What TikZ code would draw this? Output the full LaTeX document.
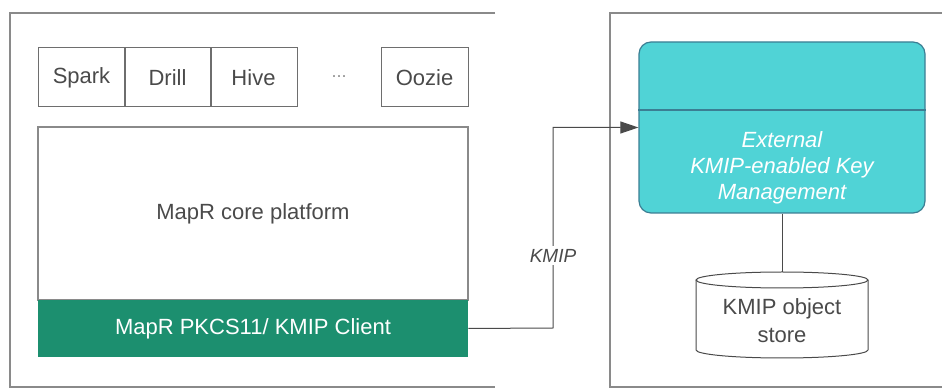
\documentclass[tikz,border=0pt]{standalone}
\usepackage{fontspec}
\setmainfont{Liberation Sans}
\usetikzlibrary{arrows.meta,positioning,calc}
\definecolor{Ink}{HTML}{4A4A4A}
\definecolor{Frame}{HTML}{8A8A8A}
\definecolor{ClientGreen}{HTML}{1C8F6F}
\definecolor{KmsTeal}{HTML}{50D3D6}
\definecolor{KmsEdge}{HTML}{3B7E93}
\newcommand{\AppBox}[3]{%
  \node[appbox] (#1) at (#2,77.5) {#3};%
}
\tikzset{
  txt/.style={font=\fontsize{11}{13}\selectfont,text=Ink},
  appbox/.style={txt,draw=Ink!80,line width=0.5pt,minimum width=43.5pt,minimum height=29.5pt,inner sep=0pt},
  wire/.style={Ink,line width=0.5pt},
}
\begin{document}
\begin{tikzpicture}[x=0.5pt,y=-0.5pt]
\useasboundingbox (0,0) rectangle (942,389);
% outer frames (open on the right)
\draw[Frame,line width=0.6pt] (495,13) -- (10,13) -- (10,387) -- (495,387);
\draw[Frame,line width=0.6pt] (942,13) -- (610,13) -- (610,387) -- (942,387);
% application row
\foreach \n/\x/\s in {spark/81.5/Spark,drill/167.5/Drill,hive/253.5/Hive} {
  \AppBox{\n}{\x}{\s}
}
\node[txt,text=Ink!60,font=\fontsize{9}{11}\selectfont] (dots) at (339,77) {...};
\AppBox{oozie}{424.5}{Oozie}
% platform and client
\node[txt,draw=Frame,line width=0.6pt,minimum width=215pt,minimum height=86.5pt,inner sep=0pt] (core) at (253,213.5) {MapR core platform};
\node[txt,text=white,fill=ClientGreen,minimum width=215pt,minimum height=28.5pt,inner sep=0pt] (client) at (253,328.5) {MapR PKCS11/ KMIP Client};
% key management
\node[draw=KmsEdge,fill=KmsTeal,line width=0.6pt,rounded corners=6pt,minimum width=143pt,minimum height=85.5pt,inner sep=0pt] (kms) at (782,127.5) {};
\draw[KmsEdge,line width=0.6pt] (kms.west |- 0,110) -- (kms.east |- 0,110);
\node[txt,text=white,font=\fontsize{11}{13}\selectfont\itshape,align=center] (kmslabel) at (782,168) {External\\KMIP-enabled Key\\Management};
% object store
\node[txt,align=center,font=\fontsize{11}{14}\selectfont,minimum width=86pt,minimum height=43pt,inner sep=0pt] (store) at (782,315) {};
\draw[wire,fill=white] (696,280) -- (696,350) arc[start angle=180,end angle=360,x radius=43pt,y radius=4pt] -- (868,280);
\draw[wire,fill=white] (782,280) ellipse[x radius=43pt,y radius=4pt];
\node[txt,align=center,font=\fontsize{11}{14}\selectfont] (storelabel) at (782,321) {KMIP object\\store};
% connectors
\coordinate (bend) at (553,328);
\draw[wire,-{Triangle[length=9pt,width=6pt]}] (client.east) -- (bend) |- (kms.west)
  node[pos=0.18,fill=white,inner sep=1.5pt,font=\fontsize{9.5}{11}\selectfont\itshape,text=Ink] (kmip) {KMIP};
\draw[wire] (kms.south) -- (store.north);
\end{tikzpicture}
\end{document}
